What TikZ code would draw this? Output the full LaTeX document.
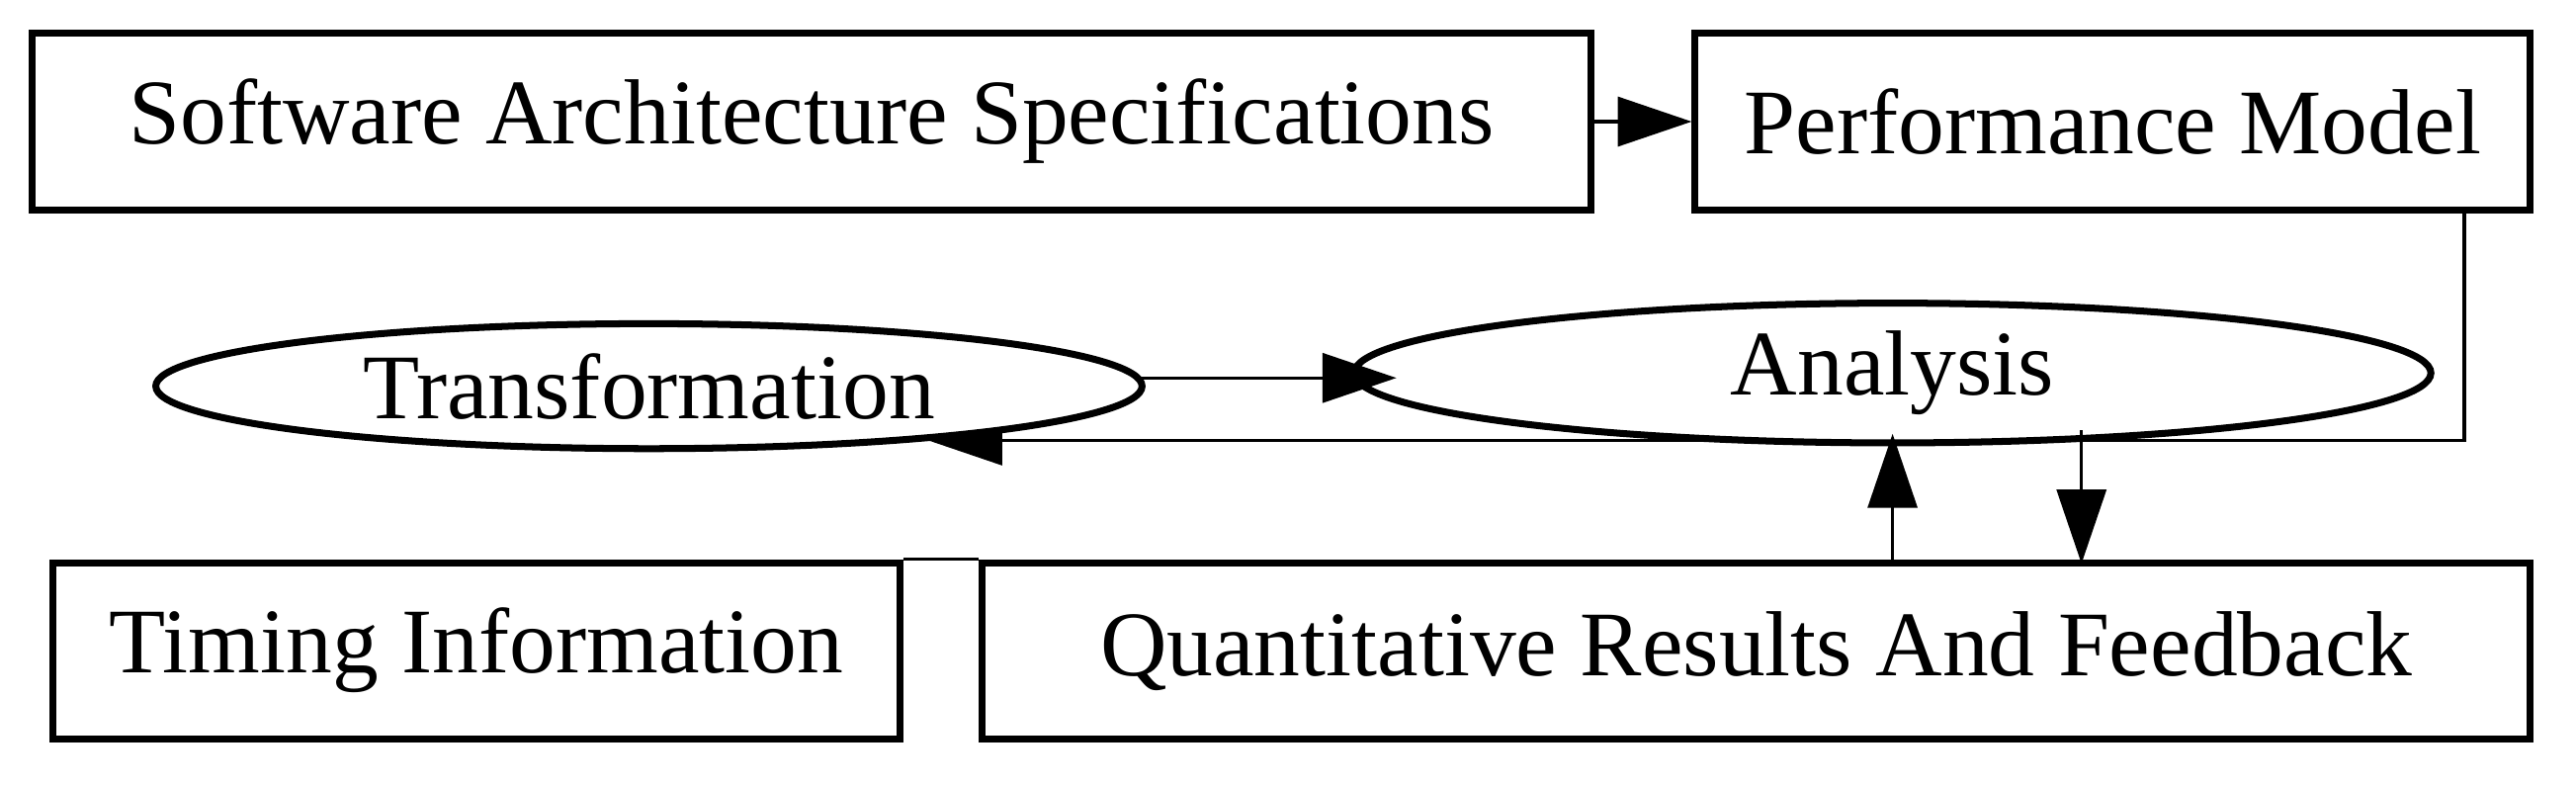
\documentclass[tikz,border=0pt]{standalone}
\usepackage{fontspec}
\setmainfont{Liberation Serif}
\usetikzlibrary{arrows.meta,shapes.geometric,backgrounds}
\begin{document}
\begin{tikzpicture}[x=0.01cm,y=-0.01cm,
  box/.style={draw,fill=white,line width=1.2pt,inner sep=0pt,font=\fontsize{16}{18}\selectfont},
  ell/.style={draw,fill=white,ellipse,line width=1.2pt,inner sep=0pt,font=\fontsize{16}{18}\selectfont},
  con/.style={line width=0.6pt},
  arr/.style={con,-{Triangle[length=4.5mm,width=3mm]}}]
\useasboundingbox (0,0) rectangle (1568,478);
\node[box,minimum width=9.48cm,minimum height=1.08cm] (sas) at (494,74) {Software Architecture Specifications};
\node[box,minimum width=5.08cm,minimum height=1.08cm] (pm) at (1286,74) {Performance Model};
\node[ell,minimum width=6.0cm,minimum height=0.76cm] (tr) at (395,235) {Transformation};
\node[ell,minimum width=6.55cm,minimum height=0.85cm] (an) at (1152,227) {Analysis};
\node[box,minimum width=5.15cm,minimum height=1.07cm] (ti) at (290,396) {Timing Information};
\node[box,minimum width=9.42cm,minimum height=1.07cm] (qr) at (1069,396) {Quantitative Results And Feedback};
\draw[arr] (sas.east) -- (pm.west);
\coordinate (t1) at (695,230);
\draw[arr] (t1) -- (850,230);
\coordinate (p1) at (1500,128);
\coordinate (p2) at (1500,268);
\begin{scope}[on background layer]
\draw[arr] (p1) -- (p2) -- (565,268);
\end{scope}
\draw[con] (ti.north east) -- (qr.north west);
\draw[arr] (1152,343) -- (1152,264);
\draw[arr] (1267,262) -- (1267,343);
\end{tikzpicture}
\end{document}
